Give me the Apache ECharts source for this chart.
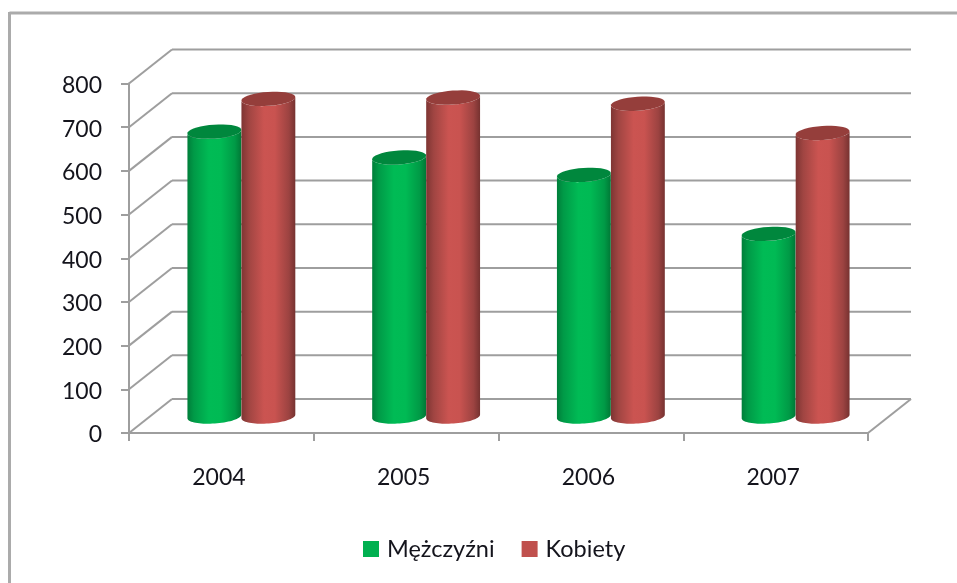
<!DOCTYPE html>
<html>
<head>
<meta charset="utf-8">
<style>
html,body{margin:0;padding:0;background:#fff;overflow:hidden}
#c{width:957px;height:583px;filter:blur(0.55px)}
</style>
<script src="https://cdn.jsdelivr.net/npm/echarts@6/dist/echarts.min.js"></script>
</head>
<body>
<div id="c"></div>
<script>
const categories = ['2004', '2005', '2006', '2007'];
const seriesNames = ['Mężczyźni', 'Kobiety'];
const menValues = [652, 593, 553, 418];
const womenValues = [727, 730, 716, 649];
const yTicks = [0, 100, 200, 300, 400, 500, 600, 700, 800];

const GRAY = '#9e9e9e';
const TEXT = '#14141c';
const FONT = 'Lato';
const DX = 43, DY = -34;          // wall depth
const MIDX = 20, MIDY = -16.5;    // cylinder position in the depth
const RX = 27, RY = 7, TILT = -0.07;
const SIDE = [-1, 1];

function ellipsePoints(cx, cy, from, to) {
  const pts = [];
  const n = 36;
  for (let k = 0; k <= n; k++) {
    const t = from + (to - from) * k / n;
    const x = RX * Math.cos(t), y = RY * Math.sin(t);
    pts.push([cx + x * Math.cos(TILT) - y * Math.sin(TILT),
              cy + x * Math.sin(TILT) + y * Math.cos(TILT)]);
  }
  return pts;
}

function sideGradient(stops) {
  return new echarts.graphic.LinearGradient(0, 0, 1, 0,
    stops.map(s => ({offset: s[0], color: s[1]})));
}

const palettes = [
  {
    legend: '#00b050', top: '#00873d',
    side: [[0, '#007e3a'], [0.12, '#009a47'], [0.4, '#00bb55'], [0.62, '#00ba54'], [0.88, '#009a46'], [1, '#007836']]
  },
  {
    legend: '#c0504d', top: '#953e3b',
    side: [[0, '#7e3533'], [0.14, '#a04542'], [0.42, '#cb5451'], [0.62, '#c95350'], [0.88, '#9c4341'], [1, '#763230']]
  }
];

function cylinderSeries(s, values) {
  return {
    type: 'custom',
    name: seriesNames[s],
    coordinateSystem: 'cartesian2d',
    clip: false,
    z: 3 + s,
    itemStyle: {color: palettes[s].legend},
    encode: {x: 0, y: 1},
    data: values.map((v, i) => [i, v]),
    renderItem: function (params, api) {
      const top = api.coord([api.value(0), api.value(1)]);
      const base = api.coord([api.value(0), 0]);
      const cx = top[0] + MIDX + SIDE[s] * RX;
      const yTop = top[1] + MIDY, yBase = base[1] + MIDY;
      const body = ellipsePoints(cx, yBase, 0, Math.PI)
        .concat(ellipsePoints(cx, yTop, Math.PI, 0));
      return {
        type: 'group',
        children: [
          {type: 'polygon', shape: {points: body},
           style: {fill: sideGradient(palettes[s].side)}},
          {type: 'polygon', shape: {points: ellipsePoints(cx, yTop, 0, 2 * Math.PI)},
           style: {fill: palettes[s].top}}
        ]
      };
    }
  };
}

const wallSeries = {
  type: 'custom',
  name: 'walls',
  coordinateSystem: 'cartesian2d',
  clip: false,
  silent: true,
  z: 1,
  encode: {y: 0},
  data: yTicks.map(v => [v]),
  renderItem: function (params, api) {
    const v = api.value(0);
    const y = api.coord([0, v])[1];
    const x0 = params.coordSys.x, x1 = x0 + params.coordSys.width;
    const line = (a, b, c, d) => ({
      type: 'line', shape: {x1: a, y1: b, x2: c, y2: d},
      style: {stroke: GRAY, lineWidth: 2, fill: null}
    });
    const children = [
      line(x0, y, x0 + DX, y + DY),
      line(x0 + DX, y + DY, x1 + DX, y + DY)
    ];
    if (v === 0) children.push(line(x1, y, x1 + DX, y + DY));
    return {type: 'group', children};
  }
};

const chart = echarts.init(document.getElementById('c'), null, {renderer: 'canvas'});
chart.setOption({
  animation: false,
  backgroundColor: '#fff',
  textStyle: {fontFamily: FONT},
  grid: {left: 129, right: 89, top: 83.5, bottom: 150, containLabel: false},
  xAxis: {
    type: 'category',
    data: categories,
    boundaryGap: true,
    axisLine: {lineStyle: {color: GRAY, width: 2}},
    axisTick: {show: true, alignWithLabel: false, length: 8, lineStyle: {color: GRAY, width: 2}},
    axisLabel: {color: TEXT, fontSize: 23, fontFamily: FONT, margin: 33, padding: [0, 5, 0, 0]}
  },
  yAxis: {
    type: 'value',
    min: 0, max: 800, interval: 100,
    axisLine: {show: true, lineStyle: {color: GRAY, width: 2}},
    axisTick: {show: true, length: 8, lineStyle: {color: GRAY, width: 2}},
    axisLabel: {color: TEXT, fontSize: 23, fontFamily: FONT, margin: 27, verticalAlign: 'top', lineHeight: 4},
    splitLine: {show: false}
  },
  legend: {
    data: seriesNames,
    left: 358,
    top: 532,
    icon: 'rect',
    itemWidth: 16,
    itemHeight: 16,
    itemGap: 27,
    textStyle: {color: TEXT, fontSize: 23.5, fontFamily: FONT, padding: [0, 0, 0, 3]},
    selectedMode: false
  },
  graphic: [
    {type: 'line', shape: {x1: 9.5, y1: 13, x2: 957, y2: 13}, style: {stroke: '#ababab', lineWidth: 3}, z: 0},
    {type: 'line', shape: {x1: 9.5, y1: 12, x2: 9.5, y2: 583}, style: {stroke: '#ababab', lineWidth: 3}, z: 0}
  ],
  series: [wallSeries, cylinderSeries(0, menValues), cylinderSeries(1, womenValues)]
});
</script>
</body>
</html>
